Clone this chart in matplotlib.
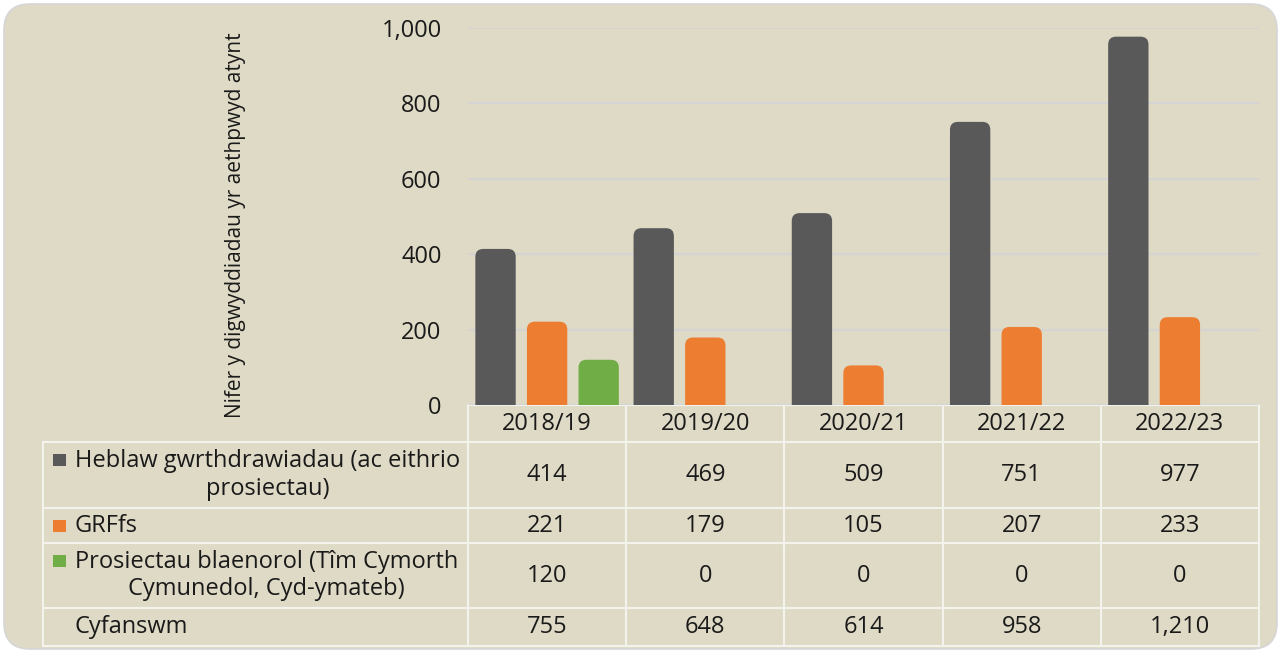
import matplotlib.pyplot as plt
from matplotlib.patches import FancyBboxPatch, Rectangle
import numpy as np

plt.rcParams['font.family'] = ['Open Sans', 'DejaVu Sans']

# data
years = ['2018/19', '2019/20', '2020/21', '2021/22', '2022/23']
series_names = ['Heblaw gwrthdrawiadau (ac eithrio\nprosiectau)',
                'GRFfs',
                'Prosiectau blaenorol (Tîm Cymorth\nCymunedol, Cyd-ymateb)']
heblaw = [414, 469, 509, 751, 977]
grffs = [221, 179, 105, 207, 233]
prosiectau = [120, 0, 0, 0, 0]
cyfanswm = [755, 648, 614, 958, 1210]
y_ticks = [0, 200, 400, 600, 800, 1000]

colors = ['#595959', '#ED7D31', '#70AD47']
bg = '#DEDAC5'
line_c = '#F3F2EC'
txt_c = '#1a1a1a'
fs = 17

W, H = 1281, 653
fig = plt.figure(figsize=(W / 100, H / 100), dpi=100)
fig.patch.set_facecolor('white')

# background panel in pixel coords
base = fig.add_axes([0, 0, 1, 1])
base.set_xlim(0, W)
base.set_ylim(H, 0)
base.axis('off')
base.add_patch(FancyBboxPatch((4, 4), W - 8, H - 8,
                              boxstyle='round,pad=0,rounding_size=26',
                              facecolor=bg, edgecolor='#D6D6D6', linewidth=1.2))

# bar axes
x0, x1, ytop, ybot = 468, 1259, 28, 405
ax = fig.add_axes([x0 / W, 1 - ybot / H, (x1 - x0) / W, (ybot - ytop) / H])
ax.set_facecolor('none')
ax.set_xlim(0, 5)
ax.set_ylim(0, 1000)
for s in ax.spines.values():
    s.set_visible(False)
ax.set_yticks(y_ticks)
ax.set_yticklabels([f'{v:,}' for v in y_ticks], fontsize=fs, color=txt_c)
ax.tick_params(axis='y', length=0, pad=19)
ax.set_xticks([])
ax.grid(axis='y', color='#D4D4D4', linewidth=1.5)
ax.set_axisbelow(True)

xc = np.arange(len(years)) + 0.5
bw = 0.255
step = 0.326
px_per_x = (x1 - x0) / 5
px_per_y = (ybot - ytop) / 1000
aspect = px_per_x / px_per_y
for i, (vals, c) in enumerate(zip([heblaw, grffs, prosiectau], colors)):
    bars = ax.bar(xc + (i - 1) * step, vals, width=bw, color=c)
    for b in bars:
        b.set_visible(False)
        h = b.get_height()
        if h <= 0:
            continue
        # rounded top; bottom pushed below zero so the axes clip keeps it square
        ax.add_patch(FancyBboxPatch((b.get_x(), -60), bw, h + 60,
                                    boxstyle='round,pad=0,rounding_size=0.05',
                                    mutation_aspect=aspect,
                                    facecolor=c, edgecolor='none'))

fig.text(235 / W, 1 - 225 / H, 'Nifer y digwyddiadau yr aethpwyd atynt',
         rotation=90, ha='center', va='center', fontsize=15, color=txt_c)

# data table (pixel coords on base axes)
col_edges = [x0 + k * px_per_x for k in range(6)]
row_edges = [405, 442, 508, 543, 608, 646]
tleft = 43
lw = 1.5
base.plot([col_edges[0], col_edges[-1]], [row_edges[0], row_edges[0]], color=line_c, lw=lw)
for yy in row_edges[1:]:
    base.plot([tleft, col_edges[-1]], [yy, yy], color=line_c, lw=lw)
base.plot([tleft, tleft], [row_edges[1], row_edges[-1]], color=line_c, lw=lw)
for xx in col_edges:
    base.plot([xx, xx], [row_edges[0], row_edges[-1]], color=line_c, lw=lw)

for k, yr in enumerate(years):
    cx = (col_edges[k] + col_edges[k + 1]) / 2
    base.text(cx, (row_edges[0] + row_edges[1]) / 2, yr, ha='center', va='center',
              fontsize=fs, color=txt_c)

rows = [heblaw, grffs, prosiectau, cyfanswm]
labels = series_names + ['Cyfanswm']
for r, (vals, lab) in enumerate(zip(rows, labels)):
    cy = (row_edges[r + 1] + row_edges[r + 2]) / 2
    for k, v in enumerate(vals):
        cx = (col_edges[k] + col_edges[k + 1]) / 2
        base.text(cx, cy, f'{v:,}', ha='center', va='center', fontsize=fs, color=txt_c)
    base.text(75, cy, lab, ha='left', va='center', fontsize=fs, color=txt_c,
              multialignment='center', linespacing=1.22)
    if r < 3:
        ty = row_edges[r + 1] + 18 if '\n' in lab else cy
        base.add_patch(Rectangle((53, ty - 6), 13, 12, facecolor=colors[r], edgecolor='none'))

fig.savefig('out.png', dpi=100, facecolor=fig.get_facecolor())
